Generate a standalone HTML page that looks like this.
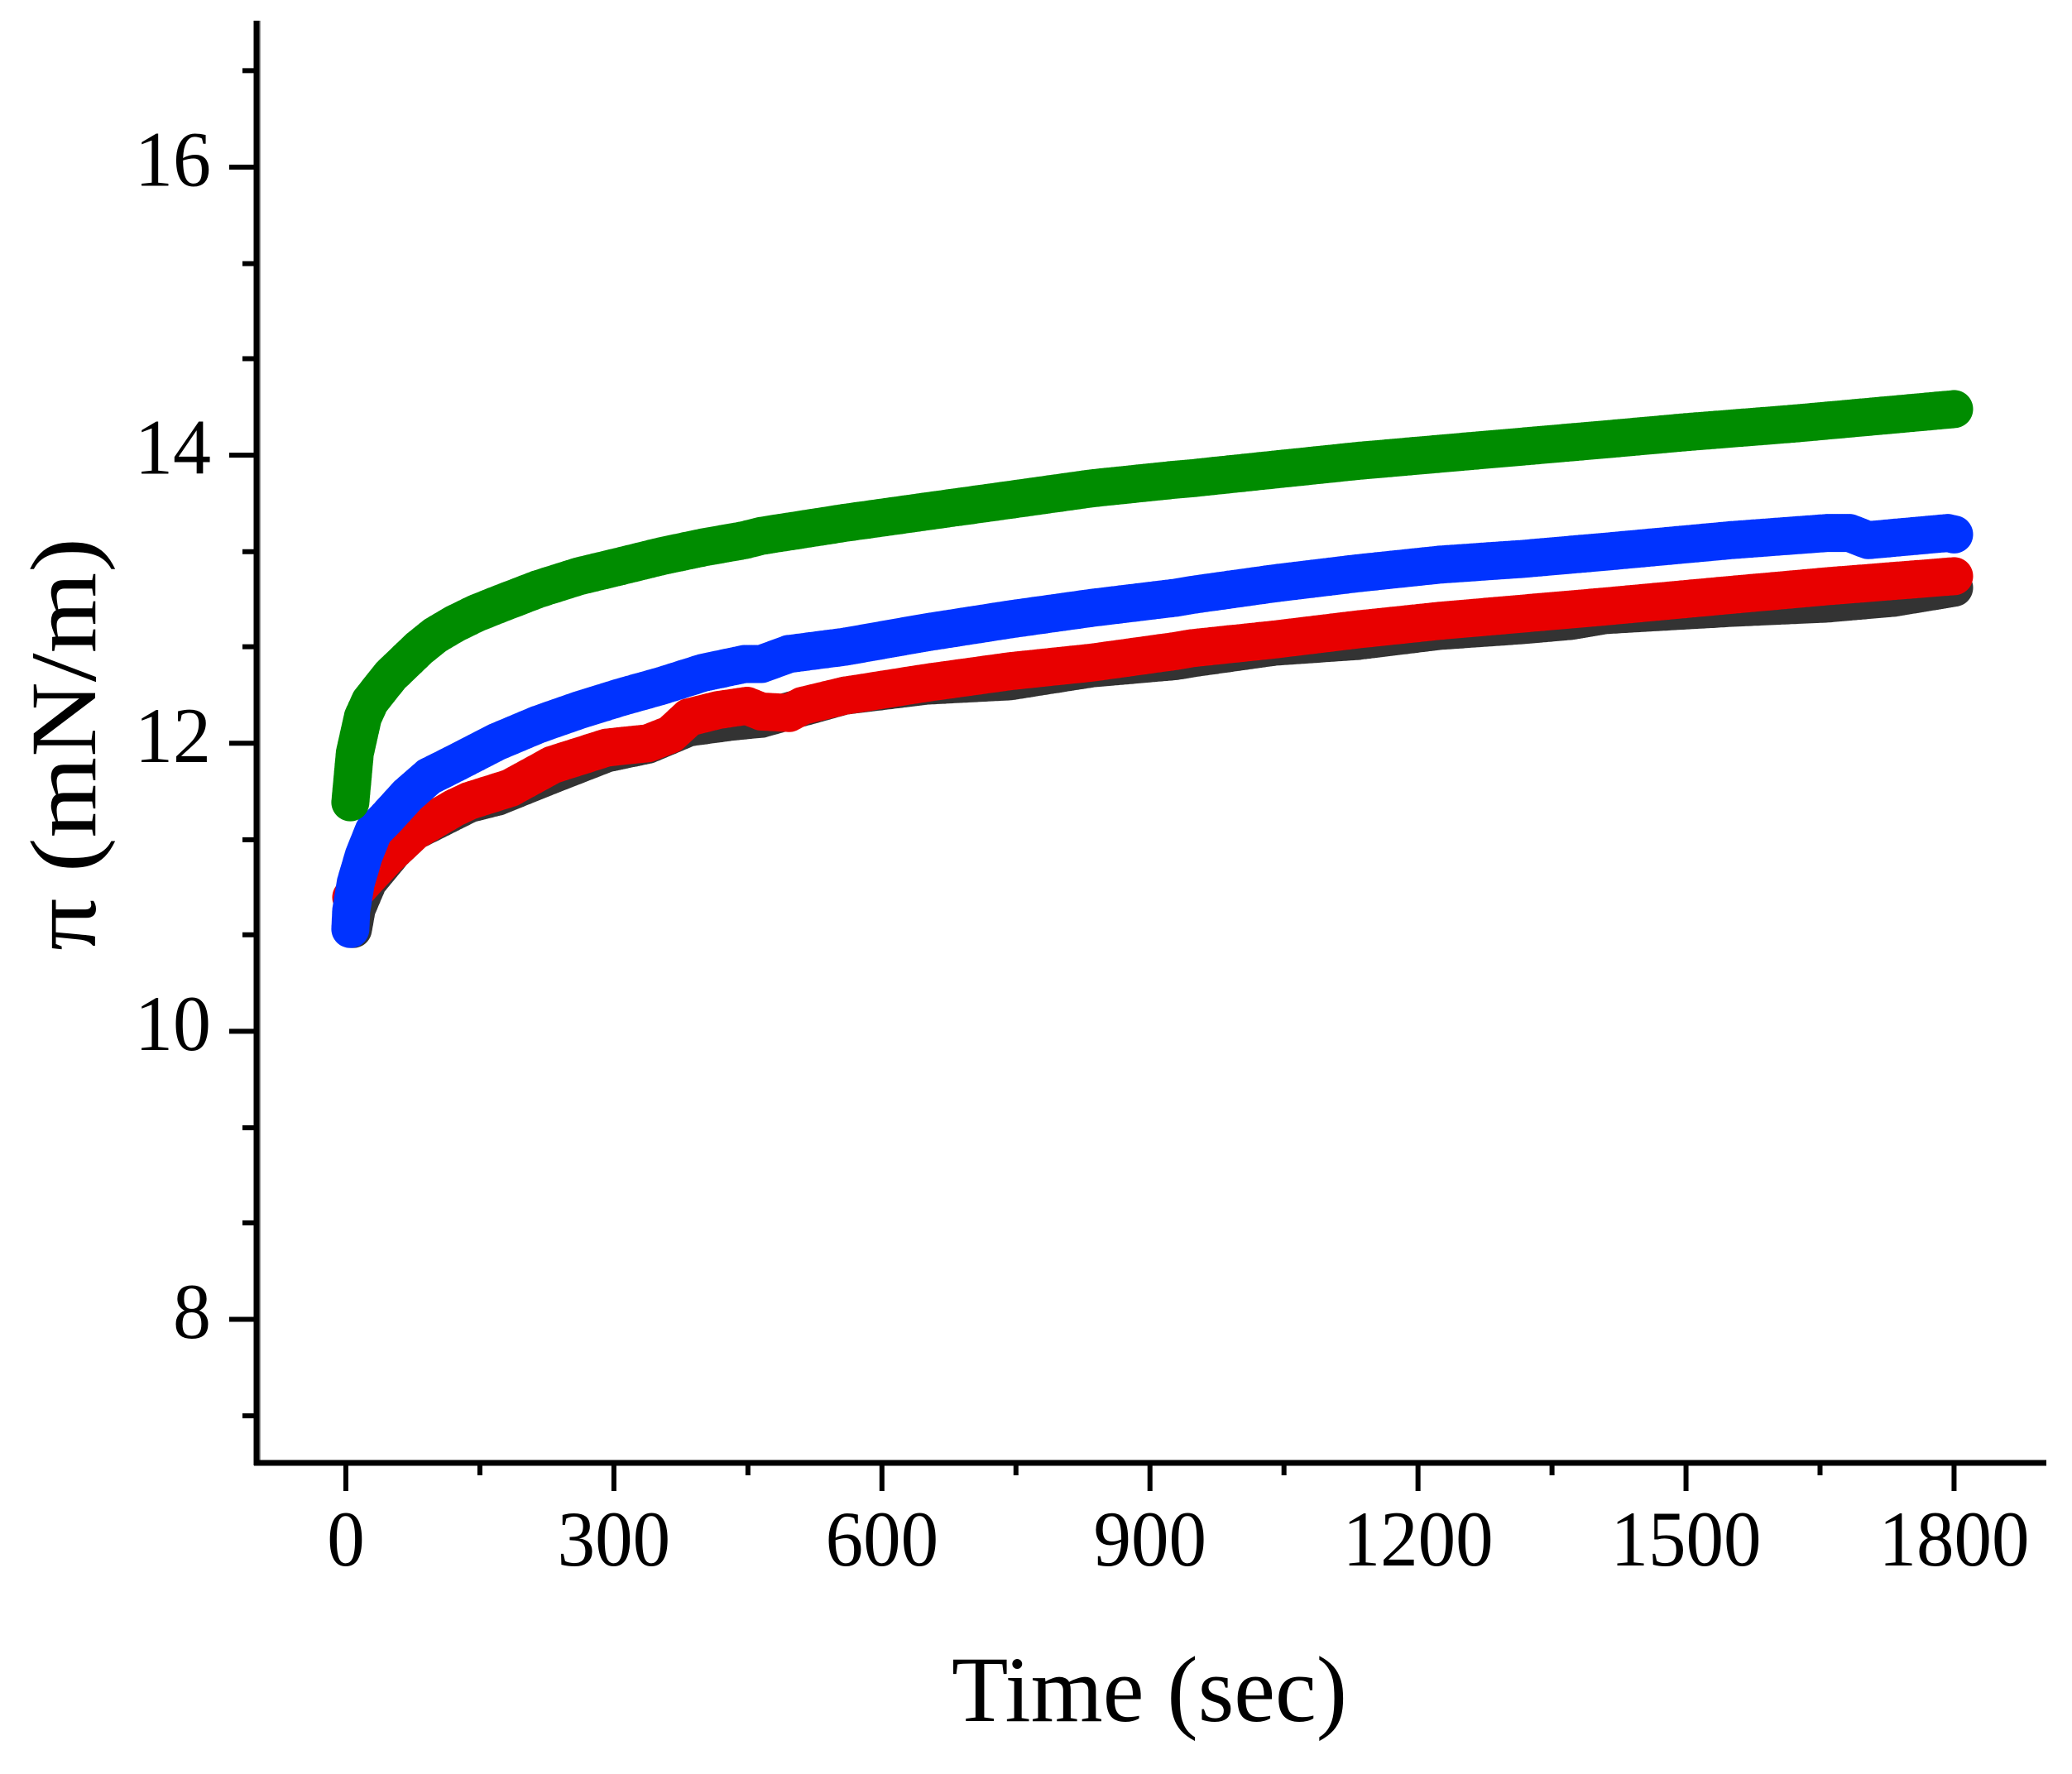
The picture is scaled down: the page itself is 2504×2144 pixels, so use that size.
<!DOCTYPE html>
<html lang="en">
<head>
<meta charset="utf-8">
<title>Surface pressure vs time</title>
<style>
html,body{margin:0;padding:0;background:#fff;}
svg{display:block;}
text{font-family:"Liberation Serif",serif;fill:#000;}
</style>
</head>
<body>
<svg id="chart" xmlns="http://www.w3.org/2000/svg" width="2504" height="2144" viewBox="0 0 2504 2144">
  <rect x="0" y="0" width="2504" height="2144" fill="#ffffff"/>
  <g id="series-layer"></g>
  <g id="axis-layer"></g>
  <text x="1150" y="2080" font-size="113" textLength="478" lengthAdjust="spacingAndGlyphs">Time (sec)</text>
  <text transform="translate(115,1149) rotate(-90)" x="0" y="0" font-size="113" textLength="499" lengthAdjust="spacingAndGlyphs">π (mN/m)</text>
</svg>
<script>
const xMajorTicks = [0, 300, 600, 900, 1200, 1500, 1800];
const xMinorTicks = [150, 450, 750, 1050, 1350, 1650];
const xTickLabels = ["0", "300", "600", "900", "1200", "1500", "1800"];
const yMajorTicks = [8, 10, 12, 14, 16];
const yMinorTicks = [7.33, 8.67, 9.33, 10.67, 11.33, 12.67, 13.33, 14.67, 15.33, 16.67];
const yTickLabels = ["8", "10", "12", "14", "16"];

const blackTimes = [8,12,25,53,77,138,170,230,292,338,384,432,465,558,650,743,835,928,947,1039,1132,1224,1317,1372,1410,1550,1658,1732,1800];
const blackValues = [10.71,10.85,11.04,11.25,11.39,11.58,11.63,11.78,11.93,11.99,12.11,12.15,12.17,12.33,12.40,12.43,12.52,12.57,12.59,12.67,12.71,12.78,12.82,12.85,12.89,12.94,12.97,13.01,13.08];

const redTimes = [6,12,22,46,77,121,138,184,231,292,338,363,384,416,449,465,496,511,558,650,743,835,928,947,1039,1132,1224,1317,1410,1550,1658,1800];
const redValues = [10.93,10.98,11.05,11.21,11.39,11.55,11.60,11.69,11.85,11.97,12.00,12.06,12.18,12.23,12.26,12.22,12.21,12.26,12.33,12.42,12.50,12.56,12.64,12.66,12.72,12.79,12.85,12.90,12.95,13.03,13.09,13.16];

const blueTimes = [5,6,11,20,31,44,69,93,122,169,215,261,308,354,400,446,465,496,558,650,743,835,928,947,1039,1132,1224,1317,1410,1550,1658,1683,1704,1793,1800];
const blueValues = [10.71,10.84,11.03,11.22,11.39,11.47,11.64,11.77,11.86,12.01,12.13,12.23,12.32,12.40,12.49,12.55,12.55,12.62,12.67,12.77,12.86,12.94,13.01,13.03,13.11,13.18,13.24,13.28,13.33,13.41,13.46,13.46,13.41,13.46,13.45];

const greenTimes = [5,10,19,27,50,82,100,122,145,169,215,261,308,354,400,446,465,558,650,743,835,928,947,1039,1132,1224,1317,1410,1500,1622,1800];
const greenValues = [11.59,11.93,12.18,12.29,12.47,12.66,12.75,12.83,12.90,12.96,13.07,13.16,13.23,13.30,13.36,13.41,13.44,13.53,13.61,13.69,13.77,13.83,13.84,13.90,13.96,14.01,14.06,14.11,14.16,14.22,14.32];

function xScale(t) { return 418 + (t * 1.0797); }
function yScale(v) { return 1594.5 - (v - 8) * 174.06; }

const NS = "http://www.w3.org/2000/svg";
const seriesLayer = document.getElementById("series-layer");
const axisLayer = document.getElementById("axis-layer");
const MARKER_RADIUS = 23;

function makeLine(x1, y1, x2, y2, width, color) {
  const l = document.createElementNS(NS, "line");
  l.setAttribute("x1", x1);
  l.setAttribute("y1", y1);
  l.setAttribute("x2", x2);
  l.setAttribute("y2", y2);
  l.setAttribute("stroke", color);
  l.setAttribute("stroke-width", width);
  return l;
}

/* The original data is a dense run of round markers, so each series is painted
   as a trail of overlapping discs walked along the scaled data points. */
function discTrail(times, values, color) {
  const r = MARKER_RADIUS;
  const disc = (x, y) => "M" + (x - r).toFixed(1) + " " + y.toFixed(1) +
    "a" + r + " " + r + " 0 1 0 " + (r * 2) + " 0" +
    "a" + r + " " + r + " 0 1 0 " + (-r * 2) + " 0Z";
  let d = "";
  for (let i = 0; i < times.length - 1; i++) {
    const x0 = xScale(times[i]), y0 = yScale(values[i]);
    const x1 = xScale(times[i + 1]), y1 = yScale(values[i + 1]);
    const n = Math.max(1, Math.round(Math.hypot(x1 - x0, y1 - y0) / 3));
    for (let k = 0; k < n; k++) {
      d += disc(x0 + (x1 - x0) * k / n, y0 + (y1 - y0) * k / n);
    }
  }
  d += disc(xScale(times[times.length - 1]), yScale(values[values.length - 1]));
  const p = document.createElementNS(NS, "path");
  p.setAttribute("d", d);
  p.setAttribute("fill", color);
  return p;
}

const blackSeries = discTrail(blackTimes, blackValues, "#333333");


seriesLayer.appendChild(blackSeries);

const redSeries = discTrail(redTimes, redValues, "#e80000");


seriesLayer.appendChild(redSeries);

const blueSeries = discTrail(blueTimes, blueValues, "#0033ff");


seriesLayer.appendChild(blueSeries);

const greenSeries = discTrail(greenTimes, greenValues, "#008c00");


seriesLayer.appendChild(greenSeries);

const yAxisShade = makeLine(314, 25, 314, 1771, 2, "#999999");


axisLayer.appendChild(yAxisShade);

const yAxisLine = makeLine(310, 25, 310, 1771, 7, "#000000");


axisLayer.appendChild(yAxisLine);

const xAxisLine = makeLine(307, 1768, 2473, 1768, 7, "#000000");


axisLayer.appendChild(xAxisLine);

xMajorTicks.forEach((t, i) => {
  const tick = makeLine(xScale(t), 1768, xScale(t), 1802, 6, "#000000");
  
  
  axisLayer.appendChild(tick);
  const label = document.createElementNS(NS, "text");
  
  
  label.setAttribute("x", xScale(t));
  label.setAttribute("y", 1892);
  label.setAttribute("font-size", 95);
  label.setAttribute("text-anchor", "middle");
  label.setAttribute("textLength", xTickLabels[i].length * 45.5);
  label.setAttribute("lengthAdjust", "spacingAndGlyphs");
  label.textContent = xTickLabels[i];
  axisLayer.appendChild(label);
});

xMinorTicks.forEach((t) => {
  const tick = makeLine(xScale(t), 1768, xScale(t), 1783, 6, "#000000");
  
  
  axisLayer.appendChild(tick);
});

yMajorTicks.forEach((v, i) => {
  const tick = makeLine(277, yScale(v), 310, yScale(v), 6, "#000000");
  
  
  axisLayer.appendChild(tick);
  const label = document.createElementNS(NS, "text");
  
  
  label.setAttribute("x", 255);
  label.setAttribute("y", yScale(v) + 22.5);
  label.setAttribute("font-size", 95);
  label.setAttribute("text-anchor", "end");
  label.setAttribute("textLength", yTickLabels[i].length * 46);
  label.setAttribute("lengthAdjust", "spacingAndGlyphs");
  label.textContent = yTickLabels[i];
  axisLayer.appendChild(label);
});

yMinorTicks.forEach((v) => {
  const tick = makeLine(293, yScale(v), 310, yScale(v), 6, "#000000");
  
  
  axisLayer.appendChild(tick);
});
</script>
</body>
</html>
